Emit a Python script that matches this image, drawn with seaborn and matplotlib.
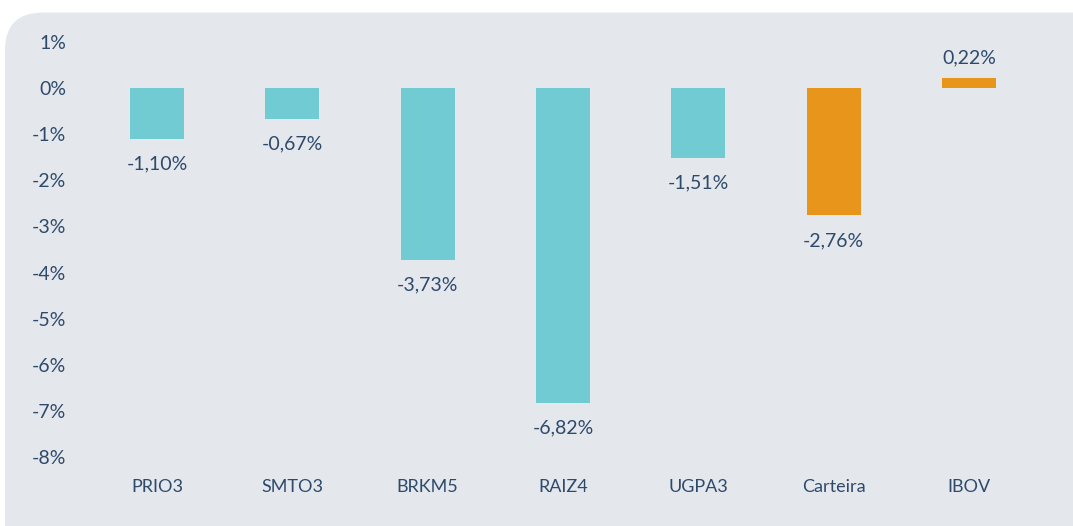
import numpy as np
import pandas as pd
import matplotlib.pyplot as plt
from matplotlib.patches import FancyBboxPatch
import seaborn as sns

# dados
ativos = ["PRIO3", "SMTO3", "BRKM5", "RAIZ4", "UGPA3", "Carteira", "IBOV"]
retornos = [-1.10, -0.67, -3.73, -6.82, -1.51, -2.76, 0.22]
grupo = ["acao", "acao", "acao", "acao", "acao", "ref", "ref"]
yticks = [1, 0, -1, -2, -3, -4, -5, -6, -7, -8]

cor_acao = "#70CBD3"
cor_ref = "#E8951C"
cor_texto = "#2E4A6B"
cor_fundo = "#E4E7EC"

df = pd.DataFrame({"ativo": ativos, "retorno": retornos, "grupo": grupo})

sns.set_style("white")
plt.rcParams["font.family"] = ["Lato", "DejaVu Sans"]

fig = plt.figure(figsize=(10.73, 5.26), dpi=100)
fig.patch.set_facecolor("white")

# painel arredondado de fundo (passa das bordas direita e inferior)
topo = 1 - 11 / 526
painel = FancyBboxPatch((5 / 1073, -0.2), 1.1, topo + 0.2 - 0.003,
                        boxstyle="round,pad=0,rounding_size=0.035",
                        transform=fig.transFigure, facecolor=cor_fundo,
                        edgecolor="none", zorder=-5,
                        mutation_aspect=1073 / 526)
fig.patches.append(painel)

ax = fig.add_axes([89.5 / 1073, 1 - 457 / 526, (1036.5 - 89.5) / 1073, (457 - 42) / 526])
ax.set_facecolor("none")
ax.set_zorder(2)

sns.barplot(data=df, x="ativo", y="retorno", hue="grupo",
            palette={"acao": cor_acao, "ref": cor_ref},
            width=0.4, dodge=False, legend=False, ax=ax, saturation=1,
            linewidth=0)

for i, v in enumerate(retornos):
    txt = f"{v:.2f}%".replace(".", ",")
    if v < 0:
        ax.annotate(txt, (i, v), xytext=(0, -12), textcoords="offset points",
                    ha="center", va="top", fontsize=14, color=cor_texto)
    else:
        ax.annotate(txt, (i, v), xytext=(0, 8), textcoords="offset points",
                    ha="center", va="bottom", fontsize=14, color=cor_texto)

ax.set_ylim(-8, 1)
ax.set_xlim(-0.5, 6.5)
ax.set_yticks(yticks)
ax.set_yticklabels([f"{t}%" for t in yticks])
ax.tick_params(axis="y", length=0, pad=17, labelsize=14, labelcolor=cor_texto)
ax.tick_params(axis="x", length=0, pad=16, labelsize=13, labelcolor=cor_texto)
ax.set_xlabel("")
ax.set_ylabel("")
for s in ax.spines.values():
    s.set_visible(False)

fig.savefig("out.png", dpi=100, facecolor="white")
